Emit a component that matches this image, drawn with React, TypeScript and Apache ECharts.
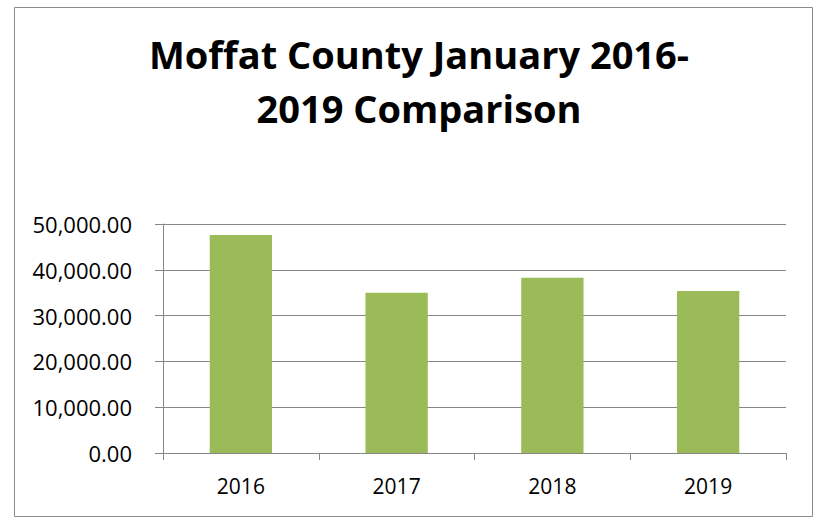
import React, { useEffect, useRef } from "react";
import * as echarts from "echarts";

const categories = ["2016", "2017", "2018", "2019"];
const values = [47600, 35000, 38260, 35350];
const titleText = "Moffat County January 2016-\n2019 Comparison";

export default function App() {
  const ref = useRef<HTMLDivElement>(null);
  useEffect(() => {
    if (!ref.current) return;
    const chart = echarts.init(ref.current, null, { renderer: "svg" });
    const axisColor = "#868686";
    chart.setOption({
      animation: false,
      backgroundColor: "#ffffff",
      title: {
        text: titleText,
        left: 414,
        top: 22,
        textAlign: "center",
        textStyle: {
          fontFamily: "Open Sans",
          fontWeight: "bold",
          fontSize: 38,
          lineHeight: 54,
          color: "#000000",
        },
      },
      graphic: [
        {
          type: "rect",
          shape: { x: 14.5, y: 7.5, width: 798, height: 509 },
          style: { fill: "none", stroke: "#8c8c8c", lineWidth: 1 },
          silent: true,
        },
      ],
      grid: { left: 163, right: 32, top: 224, bottom: 65 },
      xAxis: {
        type: "category",
        data: categories,
        axisLine: { lineStyle: { color: axisColor, width: 1 } },
        axisTick: { show: true, length: 7, lineStyle: { color: axisColor } },
        axisLabel: {
          fontFamily: "Open Sans",
          fontSize: 21,
          color: "#000000",
          margin: 22,
        },
      },
      yAxis: {
        type: "value",
        min: 0,
        max: 50000,
        interval: 10000,
        axisLine: { show: true, lineStyle: { color: axisColor, width: 1 } },
        axisTick: { show: true, length: 8, lineStyle: { color: axisColor } },
        splitLine: { show: true, lineStyle: { color: axisColor, width: 1 } },
        axisLabel: {
          fontFamily: "Open Sans",
          fontSize: 22,
          color: "#000000",
          margin: 31,
          formatter: (v: number) =>
            v.toLocaleString("en-US", { minimumFractionDigits: 2, maximumFractionDigits: 2 }),
        },
      },
      series: [
        {
          type: "bar",
          data: values,
          barWidth: "40%",
          itemStyle: { color: "#9BBB59" },
        },
      ],
    });
    return () => chart.dispose();
  }, []);
  return (
    <div
      ref={ref}
      style={{ position: "absolute", left: 0, top: 0, width: 818, height: 518 }}
    />
  );
}
